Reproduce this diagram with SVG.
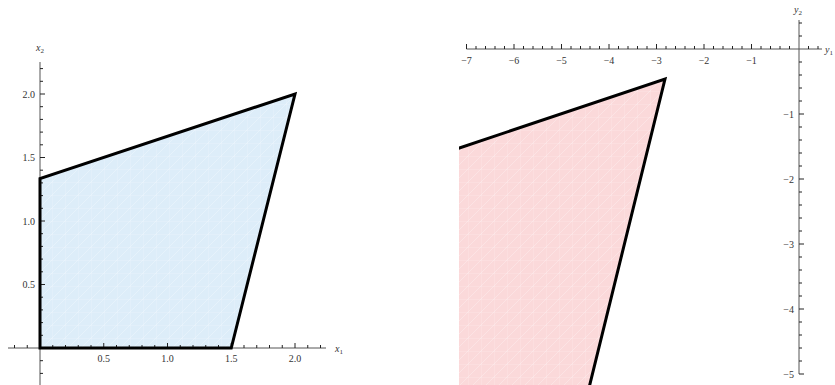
<svg xmlns="http://www.w3.org/2000/svg" width="835" height="385" viewBox="0 0 835 385">
<style>
.axis{stroke:#555;stroke-width:1;fill:none}
.tick{stroke:#222;stroke-width:1;fill:none}
.edge{stroke:#000;stroke-width:3;fill:none;stroke-linejoin:miter;stroke-linecap:square}
.lbl{font-family:"Liberation Serif",serif;font-size:10px;fill:#333}
.ax{font-family:"Liberation Serif",serif;font-size:10px;fill:#333;font-style:italic}
.sub{font-size:7px;font-style:normal}
</style>
<defs>
<pattern id="meshB" width="13" height="13" patternUnits="userSpaceOnUse">
<rect width="13" height="13" fill="#ddedf9"/>
<path d="M0 13L13 0M0 0H13M0 0V13" stroke="#fff" stroke-width="0.6" stroke-opacity="0.45"/>
</pattern>
<pattern id="meshR" width="13" height="13" patternUnits="userSpaceOnUse">
<rect width="13" height="13" fill="#fbd9da"/>
<path d="M0 13L13 0M0 0H13M0 0V13" stroke="#fff" stroke-width="0.6" stroke-opacity="0.45"/>
</pattern>
<clipPath id="clipR"><rect x="459" y="0" width="376" height="385"/></clipPath>
</defs>

<g id="left-plot">
<polygon points="40,348 231.25,348 295,94 40,178.7" fill="url(#meshB)"/>
<g id="left-axes">
<path class="axis" d="M8 348H326M40 62V385"/>
<path class="tick" d="M14.5 348v-3M27.25 348v-3M52.75 348v-3M65.5 348v-3M78.25 348v-3M91 348v-3M103.75 348v-5M116.5 348v-3M129.25 348v-3M142 348v-3M154.75 348v-3M167.5 348v-5M180.25 348v-3M193 348v-3M205.75 348v-3M218.5 348v-3M231.25 348v-5M244 348v-3M256.75 348v-3M269.5 348v-3M282.25 348v-3M295 348v-5M307.75 348v-3M320.5 348v-3"/>
<path class="tick" d="M40 373.4h3M40 360.7h3M40 335.3h3M40 322.6h3M40 309.9h3M40 297.2h3M40 284.5h5M40 271.8h3M40 259.1h3M40 246.4h3M40 233.7h3M40 221h5M40 208.3h3M40 195.6h3M40 182.9h3M40 170.2h3M40 157.5h5M40 144.8h3M40 132.1h3M40 119.4h3M40 106.7h3M40 94h5M40 81.3h3M40 68.6h3"/>
<g class="lbl" text-anchor="middle">
<text x="103.75" y="362">0.5</text>
<text x="167.5" y="362">1.0</text>
<text x="231.25" y="362">1.5</text>
<text x="295" y="362">2.0</text>
</g>
<g class="lbl" text-anchor="end">
<text x="35" y="288">0.5</text>
<text x="35" y="224.5">1.0</text>
<text x="35" y="161">1.5</text>
<text x="35" y="97.5">2.0</text>
</g>
<text class="ax" x="335" y="352">x<tspan class="sub" dy="2">1</tspan></text>
<text class="ax" x="36" y="51">x<tspan class="sub" dy="2">2</tspan></text>
</g>
<path id="left-boundary" class="edge" d="M40 348H231.25L295 94L40 178.7Z"/>
</g>

<g id="right-plot">
<g clip-path="url(#clipR)">
<polygon points="440,154.5 665,79 590,385 440,385" fill="url(#meshR)"/>
<path id="right-boundary" class="edge" d="M440 154.5L665 79L588 392"/>
</g>
<g id="right-axes">
<path class="axis" d="M466.5 49H822M799 20V374"/>
<path class="tick" d="M466.5 49v-5M476 49v-3M485.5 49v-3M495 49v-3M504.5 49v-3M514 49v-5M523.5 49v-3M533 49v-3M542.5 49v-3M552 49v-3M561.5 49v-5M571 49v-3M580.5 49v-3M590 49v-3M599.5 49v-3M609 49v-5M618.5 49v-3M628 49v-3M637.5 49v-3M647 49v-3M656.5 49v-5M666 49v-3M675.5 49v-3M685 49v-3M694.5 49v-3M704 49v-5M713.5 49v-3M723 49v-3M732.5 49v-3M742 49v-3M751.5 49v-5M761 49v-3M770.5 49v-3M780 49v-3M789.5 49v-3M808.5 49v-3M818 49v-3"/>
<path class="tick" d="M799 23h3M799 36h3M799 62h3M799 75h3M799 88h3M799 101h3M799 114h5M799 127h3M799 140h3M799 153h3M799 166h3M799 179h5M799 192h3M799 205h3M799 218h3M799 231h3M799 244h5M799 257h3M799 270h3M799 283h3M799 296h3M799 309h5M799 322h3M799 335h3M799 348h3M799 361h3M799 374h5"/>
<g class="lbl" text-anchor="middle">
<text x="466.5" y="64">−7</text>
<text x="514" y="64">−6</text>
<text x="561.5" y="64">−5</text>
<text x="609" y="64">−4</text>
<text x="656.5" y="64">−3</text>
<text x="704" y="64">−2</text>
<text x="751.5" y="64">−1</text>
</g>
<g class="lbl" text-anchor="end">
<text x="794" y="117.5">−1</text>
<text x="794" y="182.5">−2</text>
<text x="794" y="247.5">−3</text>
<text x="794" y="312.5">−4</text>
<text x="794" y="377.5">−5</text>
</g>
<text class="ax" x="794" y="13">y<tspan class="sub" dy="2">2</tspan></text>
<text class="ax" x="825" y="53">y<tspan class="sub" dy="2">1</tspan></text>
</g>
</g>
</svg>
